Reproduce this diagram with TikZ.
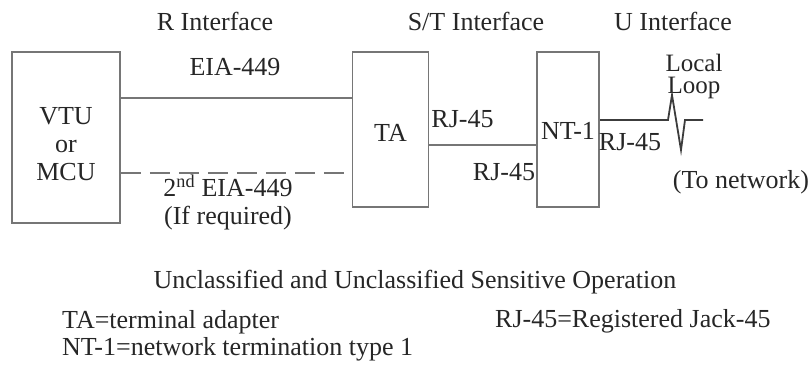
\documentclass[tikz,border=0pt]{standalone}
\usepackage{fontspec}
\setmainfont{Liberation Serif}
\usepackage{tikz}
\usetikzlibrary{positioning,calc}
\definecolor{lineGray}{RGB}{118,118,118}
\definecolor{loopGray}{RGB}{60,60,60}
\definecolor{textGray}{RGB}{38,38,38}

\begin{document}
\begin{tikzpicture}[x=1pt,y=-1pt,
        font=\fontsize{26}{28}\selectfont,text=textGray,
        box/.style={draw=lineGray,line width=1.8pt,align=center,inner sep=0pt},
        lbl/.style={inner sep=0pt,align=center},
        wire/.style={draw=lineGray,line width=1.8pt},
        optwire/.style={wire,dash pattern=on 20pt off 9pt}
      ]
        \useasboundingbox (0,0) rectangle (812,367);
        % boxes
        \node[box,minimum width=108pt,minimum height=171pt] (vtu) at (66,137.5) {\rule{0pt}{30pt}VTU\\or\\MCU};
        \node[box,minimum width=76pt,minimum height=155pt] (ta) at (390.5,129.5) {\rule{0pt}{23pt}TA};
        \node[box,minimum width=62.5pt,minimum height=155pt] (nt) at (568,129.5) {\rule{0pt}{20pt}NT-1};
        \coordinate (net) at (703,120);
        % interface titles
        \node[lbl] (rif) at (215,21) {R Interface};
        \node[lbl] (stif) at (476,21) {S/T Interface};
        \node[lbl] (uif) at (673,21) {U Interface};
        % wire labels
        \node[lbl] (eia) at (235,67) {EIA-449};
        \node[lbl] (eiatwo) at (228,202) {2\textsuperscript{nd} EIA-449\\(If required)};
        \node[lbl] (rjta) at (462.5,119) {RJ-45};
        \node[lbl] (rjnt) at (504,172.5) {RJ-45};
        \node[lbl] (rjout) at (630,142.5) {RJ-45};
        \node[lbl,anchor=base,font=\fontsize{25}{26}\selectfont] (local) at (694,71) {Local};
        \node[lbl,anchor=base,font=\fontsize{25}{26}\selectfont] (loop) at (694,93) {Loop};
        \node[lbl] (tonet) at (741,182.5) {(To network)};
        % connectors
        \draw[wire] (vtu.east |- 0,98) -- (ta.west |- 0,98);
        \draw[optwire] (vtu.east |- 0,172.7) -- (ta.west |- 0,172.7);
        \draw[wire] (ta.east |- 0,145) -- (nt.west |- 0,145);
        \draw[wire,draw=loopGray] (nt.east |- net) -- (668,120) -- (672,95) -- (681,150) -- (685,120) -- (net);
        % legend
        \node[lbl] (note) at (415,282) {Unclassified and Unclassified Sensitive Operation};
        \node[lbl,anchor=west] (legta) at (62,322) {TA=terminal adapter};
        \node[lbl,anchor=west] (legnt) at (62,349) {NT-1=network termination type 1};
        \node[lbl,anchor=west] (legrj) at (495,321) {RJ-45=Registered Jack-45};
      \end{tikzpicture}
\end{document}
